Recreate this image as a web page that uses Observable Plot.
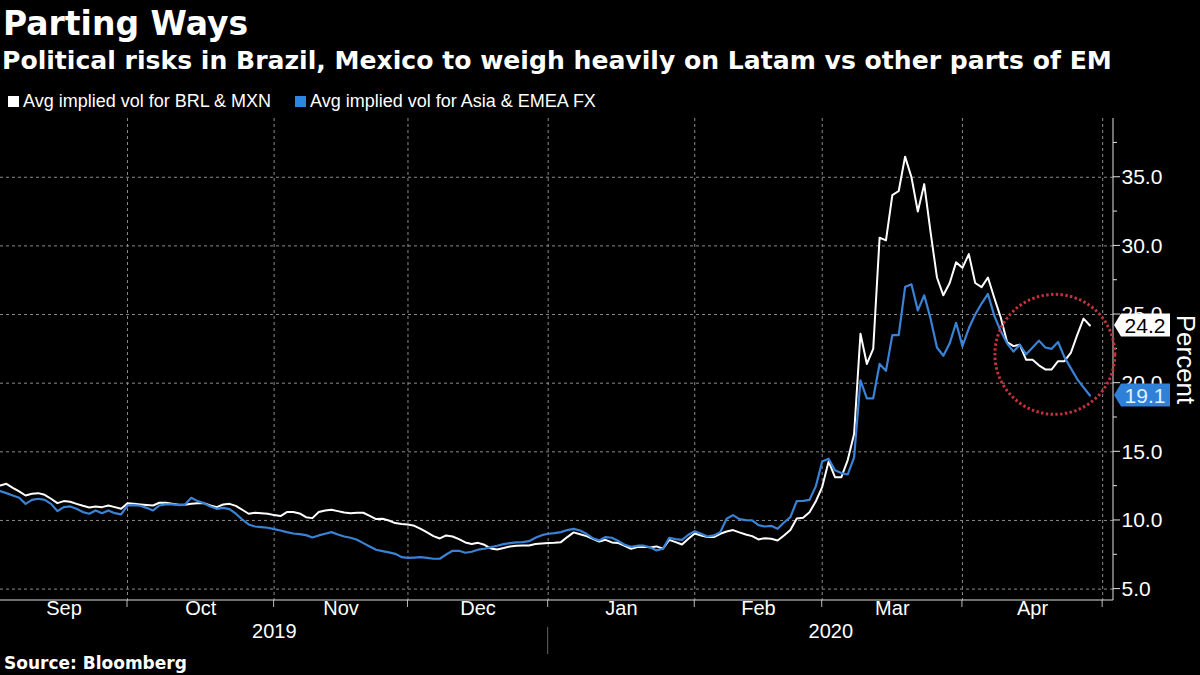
<!DOCTYPE html>
<html><head><meta charset="utf-8">
<script src="https://cdn.jsdelivr.net/npm/d3@7"></script>
<script src="https://cdn.jsdelivr.net/npm/@observablehq/plot@0.6"></script>
<style>
html,body{margin:0;padding:0;background:#000;}
#root{position:relative;width:1200px;height:675px;background:#000;overflow:hidden;color:#fff;}
.abs{position:absolute;white-space:nowrap;}
#title{left:3px;top:7px;font:bold 33px/33px "DejaVu Sans";}
#subtitle{left:2px;top:48px;font:bold 25.1px/25.1px "DejaVu Sans";}
#legend{left:8px;top:92px;font:18px/18px "Liberation Sans";display:flex;align-items:center;}
#legend .sw{display:inline-block;width:11px;height:11px;margin-right:4px;}
#legend .item{display:flex;align-items:center;margin-right:24px;}
#chart{left:0;top:112px;}
#source{left:4px;top:655px;font:bold 17px/17px "DejaVu Sans";}
</style></head>
<body><div id="root">
<div id="title" class="abs">Parting Ways</div>
<div id="subtitle" class="abs">Political risks in Brazil, Mexico to weigh heavily on Latam vs other parts of EM</div>
<div id="legend" class="abs"></div>
<div id="chart" class="abs"></div>
<div id="source" class="abs">Source: Bloomberg</div>
</div>
<script>
// ---- data (business days from startDate to endDate) ----
const startDate = "2019-09-03";
const endDate = "2020-04-29";
const seriesNames = ["Avg implied vol for BRL & MXN", "Avg implied vol for Asia & EMEA FX"];
const seriesColors = ["#ffffff", "#3a82d6"];
const brlMxn = [
12.55,12.67,12.38,12.12,11.82,11.94,11.99,11.87,11.58,11.26,
11.41,11.36,11.21,11.07,10.95,11.02,10.97,11.09,10.97,10.85,
11.26,11.21,11.16,11.12,11.09,11.29,11.29,11.21,11.14,11.14,
11.21,11.26,11.26,11.09,10.97,11.16,11.21,11.06,10.78,10.49,
10.56,10.53,10.49,10.39,10.32,10.61,10.61,10.51,10.24,10.17,
10.61,10.73,10.78,10.68,10.58,10.53,10.56,10.56,10.34,10.10,
10.12,10.00,9.81,9.74,9.71,9.61,9.39,9.13,8.86,8.69,
8.91,8.83,8.64,8.40,8.28,8.37,8.23,7.96,7.89,7.99,
8.11,8.16,8.18,8.18,8.28,8.33,8.35,8.37,8.42,8.79,
9.13,9.00,8.86,8.67,8.47,8.59,8.40,8.35,8.16,7.94,
8.06,8.08,8.04,8.11,7.94,8.59,8.42,8.25,8.67,9.05,
8.91,8.79,8.79,9.03,9.20,9.30,9.13,8.98,8.86,8.62,
8.71,8.67,8.54,8.91,9.30,10.15,10.20,10.60,11.40,12.45,
14.30,13.15,13.15,14.40,16.30,23.60,21.40,22.50,30.60,30.40,
33.70,34.00,36.50,35.00,32.50,34.50,31.00,27.70,26.40,27.30,
28.80,28.40,29.40,27.30,27.00,27.70,26.20,24.80,23.00,22.70,
22.80,21.70,21.70,21.30,21.00,21.00,21.60,21.60,22.20,23.50,
24.70,24.20];
const asiaEmea = [
12.14,11.99,11.82,11.65,11.21,11.50,11.58,11.50,11.21,10.68,
10.97,11.02,10.85,10.61,10.49,10.73,10.53,10.73,10.53,10.44,
11.09,11.12,11.07,10.92,10.73,11.09,11.17,11.17,11.12,11.14,
11.65,11.41,11.26,11.02,10.85,10.92,10.83,10.49,10.07,9.71,
9.56,9.51,9.47,9.37,9.27,9.15,9.05,9.00,8.93,8.76,
8.91,9.03,9.15,8.98,8.83,8.74,8.59,8.35,8.11,7.87,
7.77,7.68,7.57,7.33,7.28,7.30,7.33,7.28,7.21,7.21,
7.52,7.79,7.79,7.65,7.72,7.87,7.94,8.06,8.16,8.28,
8.35,8.40,8.42,8.49,8.74,8.93,9.03,9.08,9.15,9.30,
9.39,9.27,9.03,8.71,8.55,8.79,8.74,8.50,8.23,8.08,
8.16,8.16,8.04,7.82,7.94,8.74,8.64,8.59,8.96,9.22,
9.03,8.83,8.91,9.15,10.12,10.39,10.10,10.02,10.00,9.66,
9.56,9.61,9.39,9.85,10.24,11.41,11.43,11.50,12.50,14.30,
14.50,13.65,13.45,13.35,14.60,20.20,18.90,18.90,21.40,20.90,
23.50,23.50,27.00,27.20,25.30,26.40,24.70,22.60,22.00,22.90,
24.40,22.70,24.00,25.00,25.80,26.50,24.90,23.80,22.90,22.30,
22.80,22.10,22.60,23.10,22.60,22.50,23.00,21.90,21.10,20.30,
19.70,19.10];
const monthStarts = ["2019-10-01","2019-11-01","2019-12-01","2020-01-01","2020-02-01","2020-03-01","2020-04-01","2020-05-01"];
const monthLabels = ["Sep","Oct","Nov","Dec","Jan","Feb","Mar","Apr"];
const yearStarts = ["2020-01-01"];
const yearLabels = ["2019","2020"];
const yTicks = [5,10,15,20,25,30,35];
const yMinorTicks = [7.5,12.5,17.5,22.5,27.5,32.5,37.5];
const highlight = {date: "2020-04-21", value: 22.1};
const yLabel = "Percent";

// ---- helpers: business-day index axis (as on the terminal chart) ----
function parse(s){const [y,m,d]=s.split("-").map(Number);return new Date(Date.UTC(y,m-1,d));}
function isWeekday(d){const w=d.getUTCDay();return w!==0&&w!==6;}
function bizIndex(s){const t=parse(s);let n=0;for(let d=parse(startDate);d<t;d=new Date(d.getTime()+864e5)){if(isWeekday(d))n++;}return n;}
const dates=[];for(let d=parse(startDate);d<=parse(endDate);d=new Date(d.getTime()+864e5)){if(isWeekday(d))dates.push(d);}
const rows=[];
dates.forEach((d,k)=>{rows.push({i:k,date:d,v:brlMxn[k],s:0});rows.push({i:k,date:d,v:asiaEmea[k],s:1});});

const xMin = 0.07, xMax = 174.7, yMin = 4.17, yMax = 39.28;
const bounds = monthStarts.map(bizIndex);
const edges = [xMin, ...bounds];
const monthPos = monthLabels.map((m,k)=>({label:m, i:(edges[k]+edges[k+1])/2}));
const yb = yearStarts.map(bizIndex);
const yEdges = [xMin, ...yb, xMax];
const yearPos = yearLabels.map((l,k)=>({label:l, i:(yEdges[k]+yEdges[k+1])/2}));
const lastVals = [brlMxn[brlMxn.length-1], asiaEmea[asiaEmea.length-1]];
const boxes = [
  {v:lastVals[0], fill:"#ffffff", color:"#000000"},
  {v:lastVals[1], fill:"#2f80d8", color:"#dff2ff"}
];

// legend
const lg=document.getElementById("legend");
seriesNames.forEach((n,k)=>{const it=document.createElement("span");it.className="item";
  const sw=document.createElement("span");sw.className="sw";sw.style.background=k?"#2d86e2":"#fff";
  it.appendChild(sw);it.appendChild(document.createTextNode(n));lg.appendChild(it);});

const font = "Liberation Sans";
const axisMark = (index, scales) => {
  const {x, y} = scales;
  const g = d3.create("svg:g");
  const xr = x(xMax), ybt = y(yMin), yt = y(yMax);
  bounds.forEach(b=>g.append("line").attr("x1",x(b)).attr("x2",x(b)).attr("y1",ybt).attr("y2",ybt+7).attr("stroke","#bbb"));
  yb.forEach(b=>g.append("line").attr("x1",x(b)).attr("x2",x(b)).attr("y1",ybt+27).attr("y2",ybt+54).attr("stroke","#666"));
  g.append("line").attr("x1",0).attr("x2",xr).attr("y1",ybt).attr("y2",ybt).attr("stroke","#e0e0e0");
  g.append("line").attr("x1",xr).attr("x2",xr).attr("y1",yt).attr("y2",ybt).attr("stroke","#e0e0e0");
  yTicks.forEach(t=>g.append("line").attr("x1",xr).attr("x2",xr+7).attr("y1",y(t)).attr("y2",y(t)).attr("stroke","#e0e0e0"));
  yMinorTicks.forEach(t=>g.append("line").attr("x1",xr).attr("x2",xr+4).attr("y1",y(t)).attr("y2",y(t)).attr("stroke","#e0e0e0"));
  return g.node();
};
const boxMark = (index, scales) => {
  const {x, y} = scales;
  const g = d3.create("svg:g");
  const xr = x(xMax);
  boxes.forEach(b=>{
    const cy = y(b.v), h = 11.5;
    g.append("path").attr("d",`M${xr+1},${cy} L${xr+8},${cy-h} L${xr+57},${cy-h} L${xr+57},${cy+h} L${xr+8},${cy+h} Z`).attr("fill",b.fill);
    g.append("text").attr("x",xr+32).attr("y",cy).attr("dy","0.36em").attr("text-anchor","middle")
      .attr("font-family",font).attr("font-size",21).attr("fill",b.color).text(b.v.toFixed(1));
  });
  return g.node();
};

const plot = Plot.plot({
  width: 1200, height: 563,
  marginTop: 6, marginBottom: 75, marginLeft: 0, marginRight: 87,
  style: {background: "#000", color: "#fff", fontFamily: font, overflow: "visible"},
  x: {type: "linear", domain: [xMin, xMax], axis: null},
  y: {type: "linear", domain: [yMin, yMax], axis: null},
  marks: [
    Plot.ruleY(yTicks, {stroke: "#8a8a8a", strokeWidth: 1, strokeDasharray: "3,3"}),
    Plot.ruleX(bounds, {stroke: "#8a8a8a", strokeWidth: 1, strokeDasharray: "3,3"}),
    axisMark,
    Plot.text(yTicks, {x: xMax, y: d=>d, text: d=>d.toFixed(1), dx: 8, textAnchor: "start", fill: "#fff", fontSize: 21}),
    Plot.text(monthPos, {x: "i", text: "label", frameAnchor: "bottom", dy: 14, fill: "#fff", fontSize: 20}),
    Plot.text(yearPos, {x: "i", text: "label", frameAnchor: "bottom", dy: 37, fill: "#fff", fontSize: 20}),
    Plot.line(rows.filter(r=>r.s===0), {x: "i", y: "v", stroke: seriesColors[0], strokeWidth: 2}),
    Plot.line(rows.filter(r=>r.s===1), {x: "i", y: "v", stroke: seriesColors[1], strokeWidth: 2.2}),
    Plot.dot([highlight], {x: d=>bizIndex(d.date)+0.5, y: "value", r: 60, fill: "none", stroke: "#c4323c", strokeWidth: 3, strokeDasharray: "2.4,2.4"}),
    boxMark,
    Plot.text([yLabel], {frameAnchor: "right", textAnchor: "middle", dx: 72, rotate: 90, fill: "#fff", fontSize: 26})
  ]
});
document.getElementById("chart").appendChild(plot);
</script>
</body></html>
